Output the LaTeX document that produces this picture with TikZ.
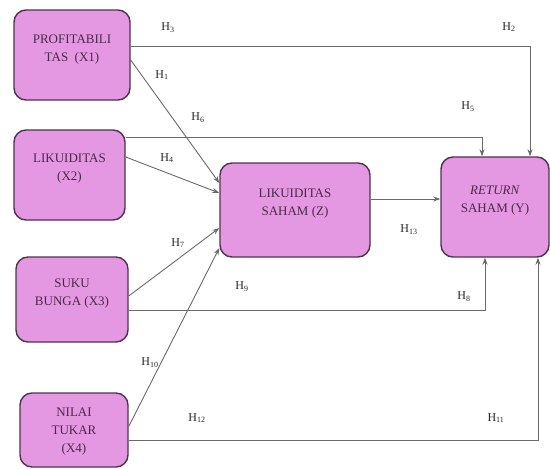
\documentclass[tikz,border=0pt]{standalone}
\usepackage{fontspec}
\setmainfont{Liberation Serif}
\usetikzlibrary{arrows.meta}
\definecolor{boxfill}{RGB}{229,152,226}
\definecolor{boxline}{RGB}{80,50,80}
\definecolor{boxtext}{RGB}{75,40,75}
\definecolor{conn}{RGB}{105,105,105}
\tikzset{
  varbox/.style={draw=boxline, line width=1.4pt, fill=boxfill, rounded corners=12pt, inner sep=0pt},
  boxlabel/.style={text=boxtext, align=center, font=\fontsize{13}{18}\selectfont, inner sep=0pt},
  arr/.style={draw=conn, line width=0.9pt, -{Stealth[length=7pt,width=5pt]}},
  hlab/.style={font=\fontsize{12}{12}\selectfont, text=black!85, inner sep=0pt}
}
\begin{document}
\begin{tikzpicture}[x=1pt,y=-1pt]
\useasboundingbox (0,0) rectangle (550,469);
% boxes
\node[varbox, minimum width=116pt, minimum height=90pt] (x1) at (72,55) {};
\node[varbox, minimum width=111pt, minimum height=90pt] (x2) at (69.5,175) {};
\node[varbox, minimum width=112pt, minimum height=85pt] (x3) at (72,299.5) {};
\node[varbox, minimum width=108pt, minimum height=74pt] (x4) at (74,430) {};
\node[varbox, minimum width=150pt, minimum height=94pt] (z) at (295,210) {};
\node[varbox, minimum width=108pt, minimum height=100pt] (y) at (495,207) {};
% box texts
\node[boxlabel] (x1t) at (72,50) {PROFITABILI\\TAS\ \ (X1)};
\node[boxlabel] (x2t) at (69.5,169) {LIKUIDITAS\\(X2)};
\node[boxlabel] (x3t) at (72,294) {SUKU\\BUNGA (X3)};
\node[boxlabel] (x4t) at (74,432) {NILAI\\TUKAR\\(X4)};
\node[boxlabel] (zt) at (295,204) {LIKUIDITAS\\SAHAM (Z)};
\node[boxlabel] (yt) at (495,201) {\textit{RETURN}\\SAHAM (Y)};
% connectors to Y (direct)
\draw[arr] ([yshift=9pt]x1.east) -| ([xshift=35pt]y.north);
\draw[arr] ([yshift=38pt]x2.east) -| ([xshift=-13pt]y.north);
\draw[arr] ([yshift=-10.5pt]x3.east) -| ([xshift=-10pt]y.south);
\draw[arr] ([yshift=-10pt]x4.east) -| ([xshift=43pt]y.south);
% connectors to Z
\draw[arr] ([yshift=-5pt]x1.east) -- ([yshift=27pt]z.west);
\draw[arr] ([yshift=18pt]x2.east) -- ([yshift=17pt]z.west);
\draw[arr] ([yshift=3.5pt]x3.east) -- ([yshift=-18pt]z.west);
\draw[arr] ([yshift=3.5pt]x4.east) -- ([yshift=-38pt]z.west);
% Z to Y
\draw[arr] ([yshift=11pt]z.east) -- ([yshift=11pt]z.east -| y.west);
% hypothesis labels
\node[hlab] (h3) at (168,28) {H\textsubscript{3}};
\node[hlab] (h2) at (509,27) {H\textsubscript{2}};
\node[hlab] (h1) at (162,75) {H\textsubscript{1}};
\node[hlab] (h6) at (198,118) {H\textsubscript{6}};
\node[hlab] (h5) at (468,107) {H\textsubscript{5}};
\node[hlab] (h4) at (167,158) {H\textsubscript{4}};
\node[hlab] (h7) at (178,243) {H\textsubscript{7}};
\node[hlab] (h9) at (242,287) {H\textsubscript{9}};
\node[hlab] (h13) at (409,230) {H\textsubscript{13}};
\node[hlab] (h8) at (464,297) {H\textsubscript{8}};
\node[hlab] (h10) at (150,363) {H\textsubscript{10}};
\node[hlab] (h12) at (197,418) {H\textsubscript{12}};
\node[hlab] (h11) at (496,418) {H\textsubscript{11}};
\end{tikzpicture}
\end{document}
